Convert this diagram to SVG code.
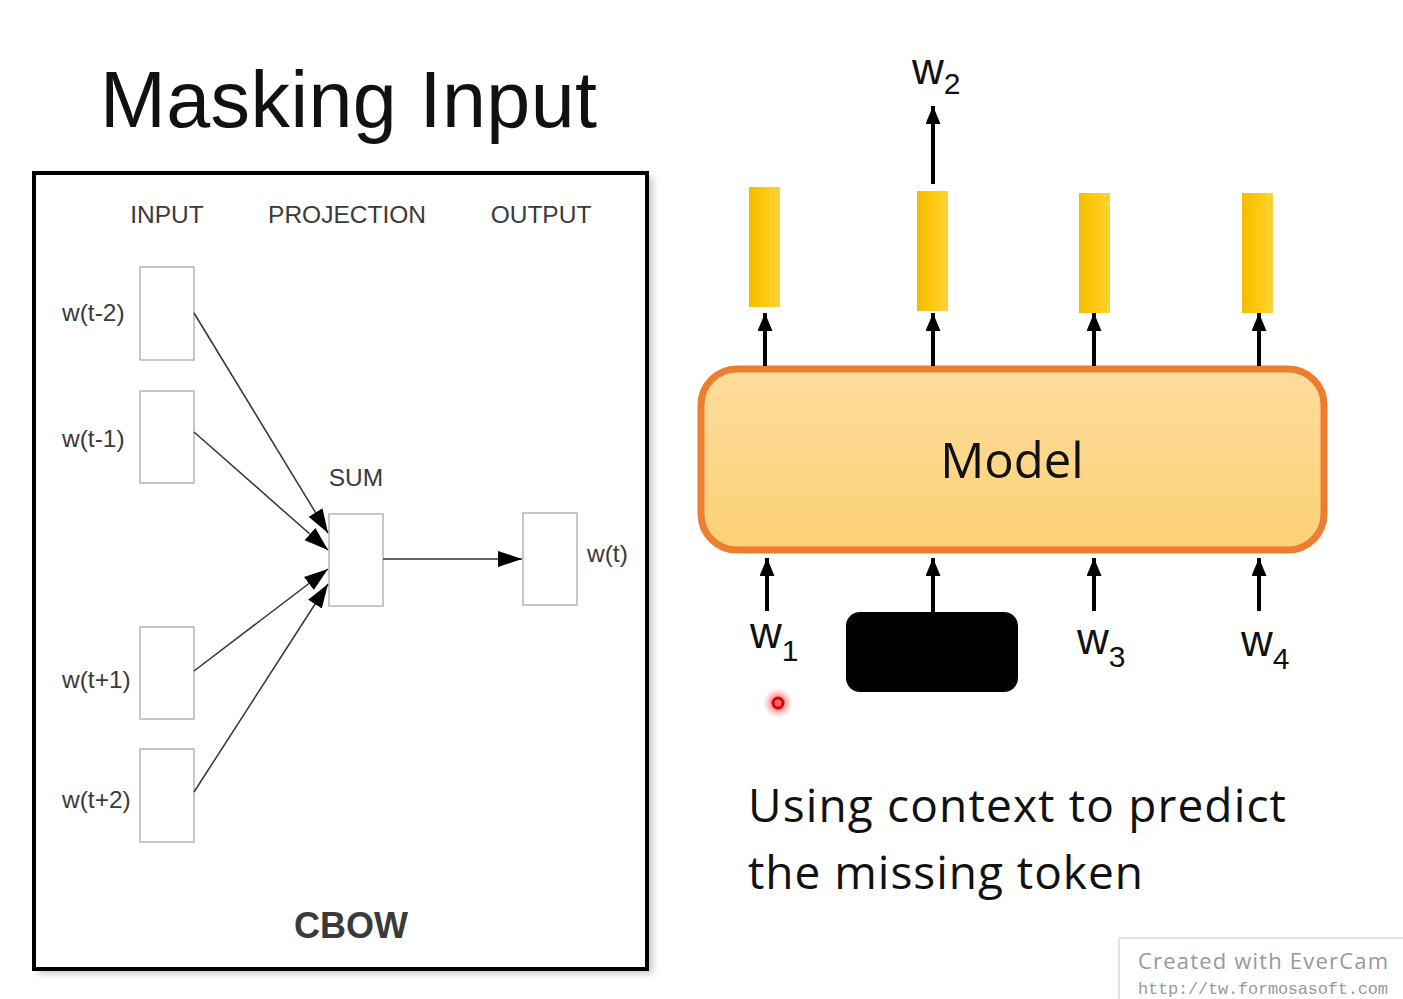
<svg xmlns="http://www.w3.org/2000/svg" width="1403" height="999" viewBox="0 0 1403 999">
<defs>
<style>
.cb{font-family:"Liberation Sans",Arial,sans-serif;fill:#3a3a3a;font-size:24.5px}
.nb{fill:#fff;stroke:#b5b5b5;stroke-width:1.5}
.ln{stroke:#333;stroke-width:1.5;fill:none}
.ar{stroke:#000;stroke-width:4;fill:none}
.bar{fill:url(#yg)}
.w{font-family:"Liberation Sans",Arial,sans-serif;font-size:44px;fill:#111}
.ws{font-size:30px}
.cap{font-family:"Open Sans","Liberation Sans",sans-serif;font-size:46px;fill:#111}
</style>
<marker id="ah" viewBox="0 0 10 10" refX="10" refY="5" markerWidth="16" markerHeight="12" orient="auto" preserveAspectRatio="none"><path d="M0,0.5 L10,5 L0,9.5 Z" fill="#000"/></marker>
<marker id="bh" viewBox="0 0 10 10" refX="10" refY="5" markerWidth="18" markerHeight="15" markerUnits="userSpaceOnUse" orient="auto" preserveAspectRatio="none"><path d="M0,0 L10,5 L0,10 Z" fill="#000"/></marker>
<linearGradient id="yg" x1="0" y1="0" x2="1" y2="0"><stop offset="0" stop-color="#F2BC00"/><stop offset="0.5" stop-color="#FFC90E"/><stop offset="1" stop-color="#FFD23A"/></linearGradient>
<linearGradient id="mg" x1="0" y1="0" x2="0" y2="1"><stop offset="0" stop-color="#FDDC9C"/><stop offset="1" stop-color="#FCD176"/></linearGradient>
<radialGradient id="glow"><stop offset="0.3" stop-color="#ff3030" stop-opacity="0.7"/><stop offset="1" stop-color="#ff8080" stop-opacity="0"/></radialGradient>
<filter id="sh" x="-5%" y="-5%" width="110%" height="110%"><feGaussianBlur stdDeviation="3"/></filter>
</defs>
<rect width="1403" height="999" fill="#fff"/>
<g id="title"><text x="100" y="127" font-family="Liberation Sans,Arial,sans-serif" font-size="79" fill="#111" textLength="497">Masking Input</text></g>

<g id="cbow-frame">
<rect x="38" y="177" width="615" height="797" fill="#999" opacity="0.5" filter="url(#sh)"/>
<rect x="34" y="173" width="613" height="796" fill="#fff" stroke="#000" stroke-width="4"/>
<text class="cb" x="167" y="223" text-anchor="middle">INPUT</text>
<text class="cb" x="347" y="223" text-anchor="middle">PROJECTION</text>
<text class="cb" x="541" y="223" text-anchor="middle">OUTPUT</text>
<text x="351" y="938" text-anchor="middle" font-family="Liberation Sans,Arial,sans-serif" font-weight="bold" font-size="36" fill="#3a3a3a">CBOW</text>
</g>
<g id="n-wt-2"><rect class="nb" x="140" y="267" width="54" height="93"/><text class="cb" x="62" y="321">w(t-2)</text></g>
<g id="n-wt-1"><rect class="nb" x="140" y="391" width="54" height="92"/><text class="cb" x="62" y="447">w(t-1)</text></g>
<g id="n-wt+1"><rect class="nb" x="140" y="627" width="54" height="92"/><text class="cb" x="62" y="688">w(t+1)</text></g>
<g id="n-wt+2"><rect class="nb" x="140" y="749" width="54" height="93"/><text class="cb" x="62" y="808">w(t+2)</text></g>
<g id="n-sum"><rect class="nb" x="329" y="514" width="54" height="92"/><text class="cb" x="356" y="486" text-anchor="middle">SUM</text></g>
<g id="n-wt"><rect class="nb" x="523" y="513" width="54" height="92"/><text class="cb" x="587" y="562">w(t)</text></g>

<g id="connectors-cbow">
<line class="ln" x1="194" y1="313" x2="328" y2="533" marker-end="url(#ah)"/>
<line class="ln" x1="194" y1="432" x2="328" y2="550" marker-end="url(#ah)"/>
<line class="ln" x1="194" y1="671" x2="328" y2="569" marker-end="url(#ah)"/>
<line class="ln" x1="194" y1="792" x2="328" y2="584" marker-end="url(#ah)"/>
<line class="ln" x1="383" y1="559" x2="522" y2="559" marker-end="url(#ah)"/>
</g>

<g id="model"><rect x="701" y="369" width="623" height="181" rx="36" fill="url(#mg)" stroke="#ED7D31" stroke-width="7"/><text x="1012" y="478" text-anchor="middle" font-family="Open Sans,Liberation Sans,sans-serif" font-size="49" fill="#111">Model</text></g>
<g id="bar1"><rect class="bar" x="749" y="187" width="31" height="120"/></g>
<g id="bar2"><rect class="bar" x="917" y="191" width="31" height="120"/></g>
<g id="bar3"><rect class="bar" x="1079" y="193" width="31" height="120"/></g>
<g id="bar4"><rect class="bar" x="1242" y="193" width="31" height="120"/></g>
<g id="out-w2"><text class="w" x="912" y="84">w<tspan class="ws" dy="10">2</tspan></text></g>
<g id="in-w1"><text class="w" x="750" y="648">w<tspan class="ws" dy="13">1</tspan></text></g>
<g id="mask"><rect x="846" y="612" width="172" height="80" rx="14" fill="#000"/></g>
<g id="in-w3"><text class="w" x="1077" y="654">w<tspan class="ws" dy="13">3</tspan></text></g>
<g id="in-w4"><text class="w" x="1241" y="656">w<tspan class="ws" dy="13">4</tspan></text></g>

<g id="connectors-model">
<line class="ar" x1="765" y1="366" x2="765" y2="313" marker-end="url(#bh)"/>
<line class="ar" x1="933" y1="366" x2="933" y2="313" marker-end="url(#bh)"/>
<line class="ar" x1="1094" y1="366" x2="1094" y2="313" marker-end="url(#bh)"/>
<line class="ar" x1="1259" y1="366" x2="1259" y2="313" marker-end="url(#bh)"/>
<line class="ar" x1="933" y1="184" x2="933" y2="106" marker-end="url(#bh)"/>
<line class="ar" x1="767" y1="611" x2="767" y2="558" marker-end="url(#bh)"/>
<line class="ar" x1="933" y1="612" x2="933" y2="558" marker-end="url(#bh)"/>
<line class="ar" x1="1094" y1="611" x2="1094" y2="558" marker-end="url(#bh)"/>
<line class="ar" x1="1259" y1="611" x2="1259" y2="558" marker-end="url(#bh)"/>
</g>

<g id="pointer"><circle cx="778" cy="703" r="15" fill="url(#glow)"/><circle cx="778" cy="703" r="5" fill="none" stroke="#e00000" stroke-width="3"/></g>

<g id="caption">
<text class="cap" x="748" y="822" textLength="538">Using context to predict</text>
<text class="cap" x="748" y="889" textLength="395">the missing token</text>
</g>

<g id="watermark">
<rect x="1119" y="938" width="290" height="70" fill="#fff" stroke="#e2e2e2" stroke-width="2"/>
<text x="1138" y="969" font-family="Open Sans,Liberation Sans,sans-serif" font-size="22" fill="#999" textLength="250">Created with EverCam</text>
<text x="1138" y="994" font-family="Liberation Mono,monospace" font-size="17" fill="#999" textLength="250">http://tw.formosasoft.com</text>
</g>
</svg>
